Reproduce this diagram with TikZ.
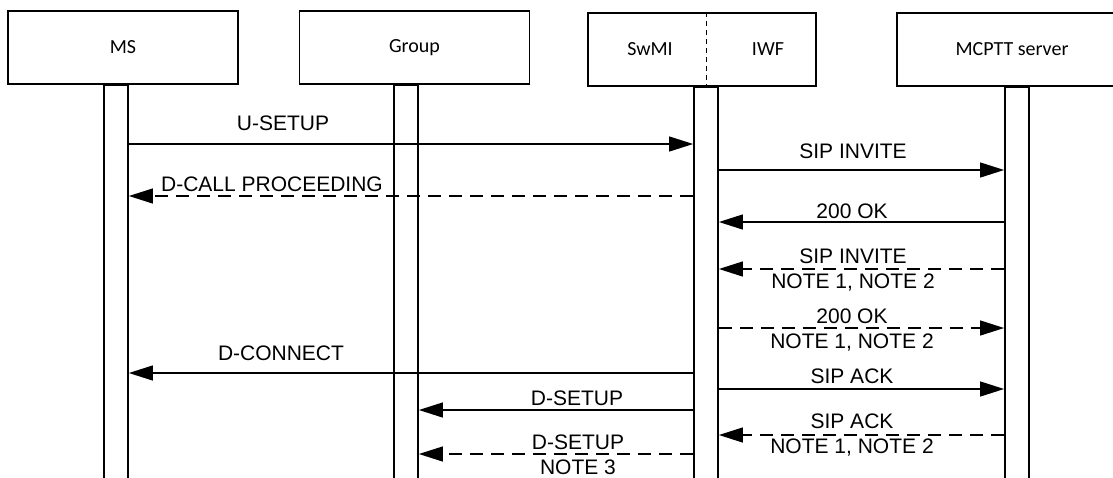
\documentclass[tikz,border=0pt]{standalone}
\usepackage{fontspec}
\setmainfont{Liberation Sans}
\newfontfamily\boxfont{Carlito}
\usepackage{tikz}
\usetikzlibrary{arrows.meta,positioning,calc}

\begin{document}
\begin{tikzpicture}[x=1pt,y=-1pt,
  every node/.style={font=\fontsize{21}{25}\selectfont},
  head/.style={draw,line width=1.4pt,minimum width=230pt,minimum height=73pt,inner sep=0pt,font=\boxfont\fontsize{20}{24}\selectfont},
  lifebar/.style={draw,line width=1.8pt,minimum width=24pt,minimum height=420pt,inner sep=0pt,anchor=north},
  msg/.style={line width=1.3pt,-{Triangle[length=24pt,width=15pt]}},
  msgdash/.style={msg,dash pattern=on 13pt off 8pt},
  lbl/.style={align=center,inner sep=0pt}]
\useasboundingbox (0,0) rectangle (1113,477);
\clip (0,0) rectangle (1113,477);
% entities
\node[head] (ms) at (123,47.5) {MS};
\node[head] (grp) at (414.5,47.5) {Group};
\node[head,minimum width=228pt] (swmi) at (702,49.5) {};
\node[head] (mcptt) at (1012,49.5) {MCPTT server};
\node[font=\boxfont\fontsize{20}{24}\selectfont] (swmilbl) at (650,49.5) {SwMI};
\node[font=\boxfont\fontsize{20}{24}\selectfont] (iwflbl) at (768,49.5) {IWF};

% activation bars
\node[lifebar] (msbar) at (116,84) {};
\node[lifebar] (grpbar) at (406,84) {};
\node[lifebar] (swmibar) at (706,86) {};
\node[lifebar] (mcpttbar) at (1017,86) {};
\draw[line width=1pt,dash pattern=on 5pt off 4pt] (swmi.north -| swmibar.north) -- (swmi.south -| swmibar.north);

% MS <-> SwMI
\draw[msg] (msbar.east |- 0,144) -- (swmibar.west |- 0,144);
\node (usetupl) at (283,123) {U-SETUP};
\draw[msgdash] (swmibar.west |- 0,196) -- (msbar.east |- 0,196);
\node (dcallpl) at (272,184) {D-CALL PROCEEDING};
\draw[msg] (swmibar.west |- 0,373) -- (msbar.east |- 0,373);
\node (dconnl) at (281,353) {D-CONNECT};

% IWF <-> MCPTT server
\draw[msg] (swmibar.east |- 0,170) -- (mcpttbar.west |- 0,170);
\node (sipinvl) at (853,151) {SIP INVITE};
\draw[msg] (mcpttbar.west |- 0,222) -- (swmibar.east |- 0,222);
\node (okl) at (852,211) {200 OK};
\draw[msgdash] (mcpttbar.west |- 0,269) -- (swmibar.east |- 0,269);
\node[lbl] (sipinvnl) at (853,270) {SIP INVITE\\NOTE 1, NOTE 2};
\draw[msgdash] (swmibar.east |- 0,328) -- (mcpttbar.west |- 0,328);
\node[lbl] (oknl) at (852,330) {200 OK\\NOTE 1, NOTE 2};
\draw[msg] (swmibar.east |- 0,389) -- (mcpttbar.west |- 0,389);
\node (sipackl) at (852,376) {SIP ACK};
\draw[msgdash] (mcpttbar.west |- 0,435) -- (swmibar.east |- 0,435);
\node[lbl] (sipacknl) at (852,435) {SIP ACK\\NOTE 1, NOTE 2};

% SwMI -> Group
\draw[msg] (swmibar.west |- 0,410) -- (grpbar.east |- 0,410);
\node (dsetupl) at (577,398) {D-SETUP};
\draw[msgdash] (swmibar.west |- 0,454) -- (grpbar.east |- 0,454);
\node[lbl] (dsetupnl) at (578,455) {D-SETUP\\NOTE 3};
\end{tikzpicture}
\end{document}
